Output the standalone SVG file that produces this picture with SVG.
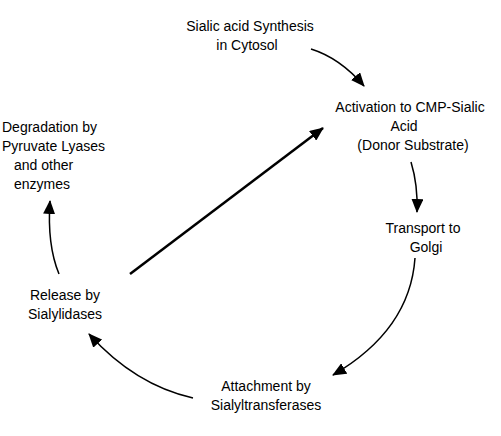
<svg xmlns="http://www.w3.org/2000/svg" width="501" height="436" viewBox="0 0 501 436">
<style>
text{font-family:"Liberation Sans",Arial,sans-serif;font-size:14px;fill:#000}
.c{text-anchor:middle}
.e{fill:none;stroke:#000;stroke-width:1.5}
.t{fill:none;stroke:#000;stroke-width:2.5}
</style>
<defs>
<marker id="ah" markerUnits="userSpaceOnUse" markerWidth="14" markerHeight="12" refX="13" refY="6" orient="auto" viewBox="0 0 14 12">
<path d="M0,0 L14,6 L0,12 Z" fill="#000"/>
</marker>
</defs>
<rect width="501" height="436" fill="#fff"/>
<g id="n1"><text class="c" x="250" y="31">Sialic acid Synthesis</text><text class="c" x="247" y="50">in Cytosol</text></g>
<g id="n2"><text class="c" x="410" y="112">Activation to CMP-Sialic</text><text class="c" x="404" y="131">Acid</text><text class="c" x="413" y="150">(Donor Substrate)</text></g>
<g id="n3"><text class="c" x="423" y="233">Transport to</text><text class="c" x="426" y="252">Golgi</text></g>
<g id="n4"><text class="c" x="266" y="391">Attachment by</text><text class="c" x="266" y="410">Sialyltransferases</text></g>
<g id="n5"><text class="c" x="65" y="300">Release by</text><text class="c" x="65" y="319">Sialylidases</text></g>
<g id="n6"><text x="2" y="132">Degradation by</text><text x="2" y="151">Pyruvate Lyases</text><text x="14" y="170">and other</text><text x="14" y="189">enzymes</text></g>
<g id="connectors">
<path class="e" d="M311,49 Q340,58 364,86" marker-end="url(#ah)"/>
<path class="t" d="M130,274 L323,128" marker-end="url(#ah)"/>
<path class="e" d="M411,162 Q418,185 417,212" marker-end="url(#ah)"/>
<path class="e" d="M415,258 Q410,330 333,375" marker-end="url(#ah)"/>
<path class="e" d="M193,398 Q135,385 89,334" marker-end="url(#ah)"/>
<path class="e" d="M59,274 Q47,245 50,201" marker-end="url(#ah)"/>
</g>
</svg>
